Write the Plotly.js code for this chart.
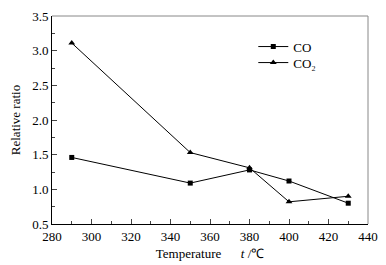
<!DOCTYPE html>
<html><head><meta charset="utf-8">
<script src="https://cdn.plot.ly/plotly-3.0.1.min.js"></script>
<style>html,body{margin:0;padding:0;background:#fff}</style>
</head><body>
<div id="chart" style="width:386px;height:265px"></div>
<script>
const temperature = [290, 350, 380, 400, 430];
const coRatio = [1.46, 1.09, 1.28, 1.12, 0.80];
const co2Ratio = [3.11, 1.53, 1.31, 0.82, 0.90];
const seriesNames = ["CO", "CO₂"];

const font = {family: "Liberation Serif, Times New Roman, serif", size: 13, color: "#000"};

const traces = [
  {x: temperature, y: coRatio, name: seriesNames[0], mode: "lines+markers", legend: "legend",
   line: {color: "#000", width: 1}, marker: {symbol: "square", size: 5, color: "#000"}},
  {x: temperature, y: co2Ratio, name: seriesNames[1], mode: "lines+markers", legend: "legend2",
   line: {color: "#000", width: 1}, marker: {symbol: "triangle-up", size: 6, color: "#000"}}
];

const legendBase = {xanchor: "left", yanchor: "top", bgcolor: "rgba(0,0,0,0)", font: font, itemwidth: 30};

const layout = {
  width: 386, height: 265,
  margin: {l: 52, r: 18, t: 16, b: 41},
  paper_bgcolor: "#fff", plot_bgcolor: "#fff",
  font: font,
  showlegend: true,
  legend: Object.assign({x: 0.637, y: 0.925}, legendBase),
  legend2: Object.assign({x: 0.637, y: 0.848}, legendBase),
  xaxis: {range: [280, 440], dtick: 20, tick0: 280, ticks: "inside", ticklen: 5,
          showgrid: false, zeroline: false, showline: true, linecolor: "#000", linewidth: 1,
          tickfont: font,
          minor: {dtick: 10, ticks: "inside", ticklen: 3, showgrid: false},
          title: {text: "Temperature      <i>t</i> /℃", font: font, standoff: 6}},
  yaxis: {range: [0.5, 3.5], dtick: 0.5, tick0: 0.5, ticks: "inside", ticklen: 5,
          tickformat: ".1f",
          showgrid: false, zeroline: false, showline: true, linecolor: "#000", linewidth: 1,
          tickfont: font,
          minor: {dtick: 0.25, ticks: "inside", ticklen: 3, showgrid: false},
          title: {text: "Relative ratio", font: font, standoff: 8}},
  shapes: [
    {type: "line", xref: "paper", yref: "paper", x0: 0, x1: 1, y0: 1, y1: 1, line: {color: "#888", width: 1}},
    {type: "line", xref: "paper", yref: "paper", x0: 1, x1: 1, y0: 0, y1: 1, line: {color: "#888", width: 1}}
  ]
};

Plotly.newPlot("chart", traces, layout, {displayModeBar: false, staticPlot: true});
</script>
</body></html>
